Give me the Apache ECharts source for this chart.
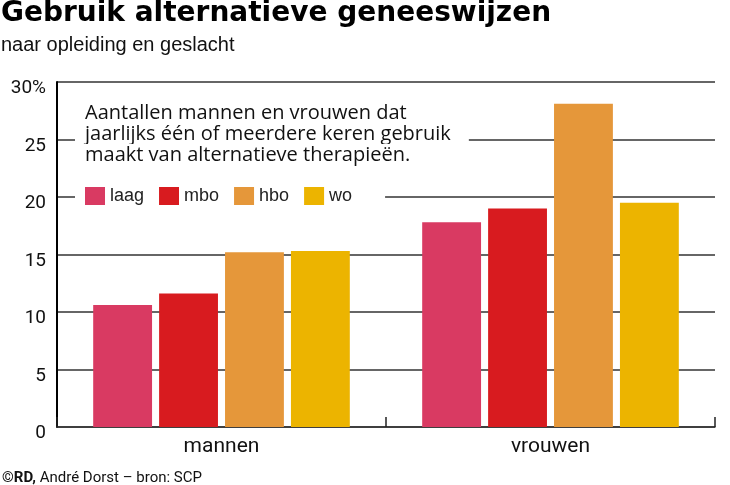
<!DOCTYPE html>
<html><head><meta charset="utf-8">
<script src="https://cdn.jsdelivr.net/npm/echarts@6/dist/echarts.min.js"></script>
<style>html,body{margin:0;padding:0;background:#fff}#c{width:730px;height:485px}</style>
</head><body><div id="c"></div>
<script>
const categories = ['mannen', 'vrouwen'];
const seriesNames = ['laag', 'mbo', 'hbo', 'wo'];
const laag = [10.6, 17.8];
const mbo = [11.6, 19.0];
const hbo = [15.2, 28.1];
const wo = [15.3, 19.5];
const yTicks = [0, 5, 10, 15, 20, 25, 30];
const colors = ['#d93a62', '#d81b1f', '#e5973a', '#ecb400'];
const seriesData = [laag, mbo, hbo, wo];

const chart = echarts.init(document.getElementById('c'));
chart.setOption({
  animation: false,
  color: colors,
  title: [{
    text: 'Gebruik alternatieve geneeswijzen',
    left: 1, top: 0,
    textStyle: {fontFamily: 'DejaVu Sans', fontWeight: 'bold', fontSize: 28, color: '#000'},
    subtext: 'naar opleiding en geslacht',
    subtextStyle: {fontFamily: 'Liberation Sans', fontSize: 20, color: '#111'},
    itemGap: 7, padding: [0, 0, 0, 0]
  }, {
    text: '{b|©RD,} André Dorst – bron: SCP',
    left: 2, bottom: -1, padding: 0,
    textStyle: {fontFamily: 'Roboto', fontSize: 15, color: '#111', fontWeight: 'normal',
      rich: {b: {fontFamily: 'Roboto', fontSize: 15, fontWeight: 'bold', color: '#111'}}}
  }],
  grid: {left: 57, right: 15, top: 82, bottom: 58, containLabel: false},
  legend: {
    data: seriesNames,
    left: 75, top: 187,
    padding: [0, 33, 0, 10],
    backgroundColor: '#fff',
    itemWidth: 20, itemHeight: 18, itemGap: 15,
    icon: 'rect',
    textStyle: {fontFamily: 'Liberation Sans', fontSize: 18, color: '#222'}
  },
  xAxis: {
    type: 'category', data: categories,
    axisLine: {lineStyle: {color: '#333', width: 1.5}},
    axisTick: {show: true, inside: true, length: 10, lineStyle: {color: '#222', width: 1.5}},
    axisLabel: {fontFamily: 'Roboto', fontSize: 21, color: '#111', margin: 9}
  },
  yAxis: {
    type: 'value', min: 0, max: 30, interval: 5,
    axisLine: {show: true, lineStyle: {color: '#000', width: 2}},
    axisTick: {show: false},
    splitLine: {lineStyle: {color: '#333', width: 1.5}},
    axisLabel: {
      fontFamily: 'Roboto', fontSize: 19, color: '#111', margin: 11,
      verticalAlign: 'top', lineHeight: 13,
      formatter: v => (yTicks.indexOf(v) >= 0 ? (v === 30 ? v + '%' : String(v)) : '')
    }
  },
  series: seriesNames.map((n, i) => ({
    name: n, type: 'bar', data: seriesData[i],
    barGap: '12%', barCategoryGap: '22%', z: 1
  })),
  graphic: [
    {type: 'text', left: 75, top: 102, z: 100,
      style: {text: 'Aantallen mannen en vrouwen dat', font: '20px "Open Sans"', fill: '#111',
        backgroundColor: '#fff', padding: [1, 18, 1, 10]}},
    {type: 'text', left: 75, top: 123, z: 100,
      style: {text: 'jaarlijks één of meerdere keren gebruik', font: '20px "Open Sans"', fill: '#111',
        backgroundColor: '#fff', padding: [1, 18, 1, 10]}},
    {type: 'text', left: 75, top: 144, z: 100,
      style: {text: 'maakt van alternatieve therapieën.', font: '20px "Open Sans"', fill: '#111',
        backgroundColor: '#fff', padding: [1, 18, 1, 10]}}
  ]
});
</script></body></html>
